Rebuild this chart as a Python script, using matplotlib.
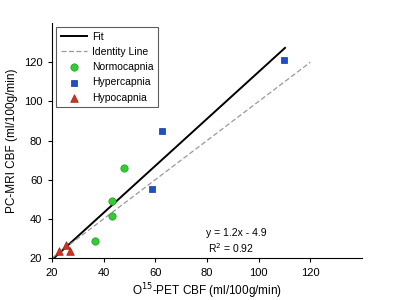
import matplotlib
matplotlib.use("Agg")
import numpy as np
import matplotlib.pyplot as plt

# data
normo_x = [36.8, 43.2, 43.4, 47.8]
normo_y = [28.7, 41.4, 48.9, 65.8]
hyper_x = [58.8, 62.7, 109.7]
hyper_y = [55.0, 84.8, 121.0]
hypo_x = [22.8, 25.6, 27.1]
hypo_y = [23.7, 26.6, 23.7]
fit_slope = 1.2
fit_icpt = -4.9
fit_range = [20.5, 110.2]
ident_range = [20, 120]
ticks = [20, 40, 60, 80, 100, 120]

plt.rcParams['font.family'] = ['Liberation Sans', 'DejaVu Sans']
fig = plt.figure(figsize=(4, 3), dpi=100)
ax = fig.add_axes([0.13, 0.14, 0.775, 0.783])

fx = np.array(fit_range)
ax.plot(fx, fit_slope * fx + fit_icpt, color="black", lw=1.4, label="Fit")
ax.plot(ident_range, ident_range, color="#999999", lw=0.9, ls=(0, (4, 2)), label="Identity Line")
ax.scatter(normo_x, normo_y, s=28, marker="o", color="#33cc33", edgecolors="#229922", lw=0.5, label="Normocapnia", zorder=3)
ax.scatter(hyper_x, hyper_y, s=22, marker="s", color="#1f4fc8", edgecolors="#163a96", lw=0.5, label="Hypercapnia", zorder=3)
ax.scatter(hypo_x, hypo_y, s=30, marker="^", color="#cc3322", edgecolors="#992211", lw=0.5, label="Hypocapnia", zorder=3)

ax.text(79.8, 32.6, "y = 1.2x - 4.9", fontsize=7.5, va="center")
ax.text(80.3, 25.0, "R$^2$ = 0.92", fontsize=7.5, va="center")

ax.set_xlim(20, 140)
ax.set_ylim(20, 140)
ax.set_xticks(ticks)
ax.set_yticks(ticks)
ax.tick_params(labelsize=8, length=3, width=0.8, pad=4)
ax.spines["top"].set_visible(False)
ax.spines["right"].set_visible(False)
ax.set_xlabel("O$^{15}$-PET CBF (ml/100g/min)", fontsize=8.5, labelpad=3)
ax.set_ylabel("PC-MRI CBF (ml/100g/min)", fontsize=8.5)

leg = ax.legend(loc="upper left", bbox_to_anchor=(0.013, 0.983), borderaxespad=0,
                fontsize=7.5, frameon=True, fancybox=False, edgecolor="#333333",
                borderpad=0.45, labelspacing=0.5, handlelength=2.5, handletextpad=0.5,
                scatterpoints=1)
leg.get_frame().set_linewidth(0.8)

plt.savefig("out.png", dpi=100)
